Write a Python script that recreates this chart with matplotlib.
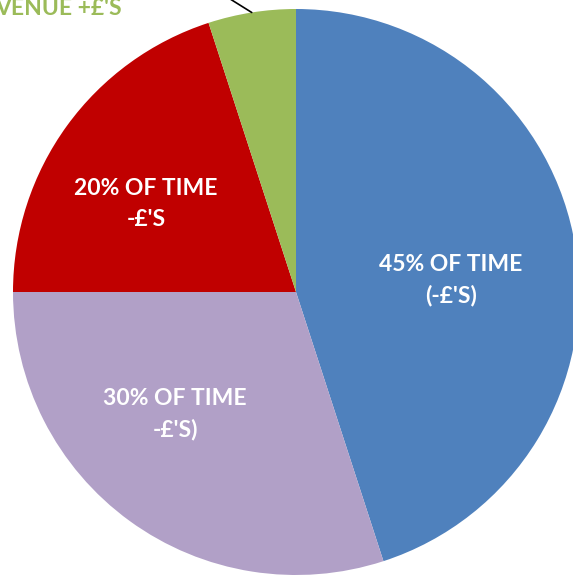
import numpy as np
import matplotlib.pyplot as plt

# Share of time per category (clockwise from 12 o'clock)
shares = [45, 30, 20, 5]
colors = ['#4F81BD', '#B1A0C7', '#C00000', '#9BBB59']
inner_labels = ["45% OF TIME\n(-£'S)", "30% OF TIME\n-£'S)", "20% OF TIME\n-£'S", None]
outer_label = "VENUE +£'S"

W, H = 573, 575
CX, CY, R = 296, -292, 283

fig = plt.figure(figsize=(W / 100, H / 100), dpi=100)
ax = fig.add_axes([0, 0, 1, 1])

wedges, _ = ax.pie(shares, colors=colors, startangle=90, counterclock=False,
                   radius=R, center=(CX, CY), frame=True)
ax.set_xlim(0, W)
ax.set_ylim(-H, 0)
ax.axis('off')

font = dict(family=['Lato', 'DejaVu Sans'], fontweight='bold', fontsize=16.5)

# label offsets from the pie centre (best-fit spots, as in the original)
offsets = [(155, 12), (-121, -122), (-150, 88), None]
for txt, off in zip(inner_labels, offsets):
    if txt is None:
        continue
    ax.text(CX + off[0], CY + off[1], txt, color='white', ha='center',
            va='center', linespacing=1.55, **font)

# leader line for the small green slice
g = wedges[3]
mid = np.deg2rad((g.theta1 + g.theta2) / 2)
px, py = CX + R * np.cos(mid), CY + R * np.sin(mid)
ax.annotate('', xy=(px, py), xytext=(px - 40, py + 25),
            arrowprops=dict(arrowstyle='-', color='black', lw=1.2,
                            shrinkA=0, shrinkB=0))
ax.text(122, -15, outer_label, color='#9BBB59', ha='right', va='baseline', **font)

fig.savefig('out.png', dpi=100)
